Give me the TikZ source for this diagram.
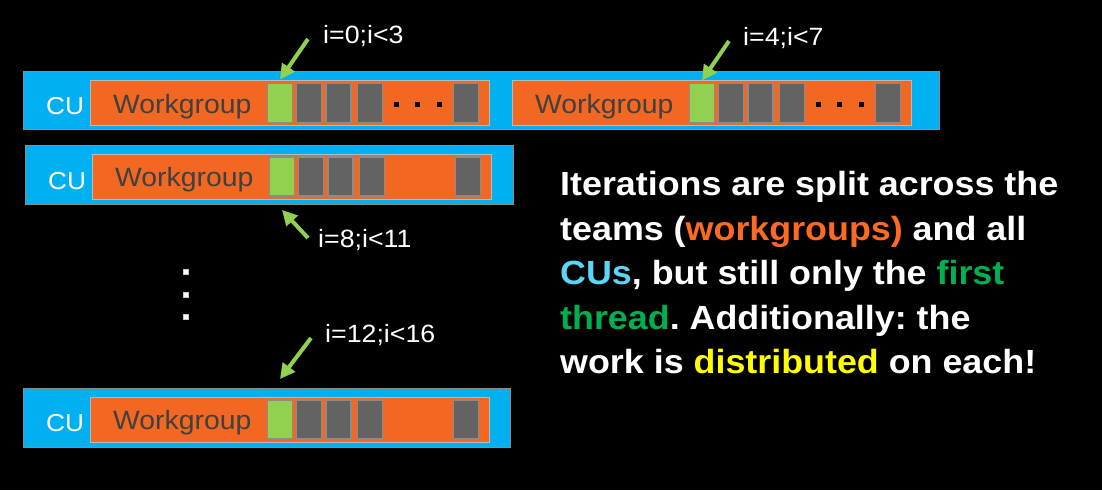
\documentclass[tikz,border=0pt]{standalone}
\usepackage{fontspec}
\setmainfont{Liberation Sans}[FakeStretch=1.07]
\usetikzlibrary{arrows.meta}
\frenchspacing

\definecolor{cublue}{HTML}{00B0F0}
\definecolor{wgorange}{HTML}{F26722}
\definecolor{thrgreen}{HTML}{92D050}
\definecolor{thrgray}{HTML}{636363}
\definecolor{edgegray}{HTML}{8C8C8C}
\definecolor{txtorange}{HTML}{FF6A22}
\definecolor{txtblue}{HTML}{5CD6F7}
\definecolor{txtgreen}{HTML}{00B050}
\definecolor{txtyellow}{HTML}{FFFF00}

% one workgroup: name, left x, centre y
\newcommand\workgroup[3]{%
  \node[wgbox,anchor=west] (#1) at (#2,#3) {};
  \node[wglabel,anchor=base west] (#1-txt) at (#2+23,#3+10) {Workgroup};
  \node[firstbox] (#1-t0) at (#2+190,#3) {};
  \foreach \dx [count=\k] in {219,248.5,280,376}
    \node[threadbox] (#1-t\k) at (#2+\dx,#3) {};
}

\begin{document}
\begin{tikzpicture}[x=1pt,y=-1pt,
    cubox/.style={draw=edgegray,line width=1pt,fill=cublue,inner sep=0pt,outer sep=0pt},
    wgbox/.style={draw=edgegray!60,line width=0.8pt,fill=wgorange,minimum width=399pt,minimum height=45pt,inner sep=0pt,outer sep=0pt},
    threadbox/.style={draw=edgegray,line width=1.2pt,fill=thrgray,minimum width=25pt,minimum height=39pt,inner sep=0pt,outer sep=0pt},
    firstbox/.style={threadbox,fill=thrgreen},
    wglabel/.style={font=\fontsize{26.5}{30}\selectfont,text=black!75,inner sep=0pt},
    culabel/.style={font=\fontsize{24.5}{28}\selectfont,text=white,inner sep=0pt,anchor=base west},
    idxlabel/.style={font=\fontsize{25}{28}\selectfont,text=white,inner sep=0pt,anchor=base west},
    ptr/.style={draw=thrgreen,line width=4pt,-{Triangle[length=15pt,width=15pt]}},
    dot/.style={fill=#1,minimum size=5pt,inner sep=0pt},
    note/.style={font=\fontsize{33.5}{44.5}\selectfont\bfseries,text=white,align=left,inner sep=0pt}]
  \fill[black] (0,0) rectangle (1102,490);
  \useasboundingbox (0,0) rectangle (1102,490);

  % compute units
  \node[cubox,anchor=north west,minimum width=916pt,minimum height=58pt] (cuA) at (23,71) {};
  \node[cubox,anchor=north west,minimum width=488pt,minimum height=59pt] (cuB) at (25,145) {};
  \node[cubox,anchor=north west,minimum width=487pt,minimum height=59pt] (cuC) at (23,388) {};
  \node[culabel] (cuA-txt) at (46,114) {CU};
  \node[culabel] (cuB-txt) at (48,189) {CU};
  \node[culabel] (cuC-txt) at (46,431) {CU};

  % workgroups
  \workgroup{wgA}{90}{103}
  \workgroup{wgAA}{512}{103}
  \workgroup{wgB}{92}{176.5}
  \workgroup{wgC}{90}{419.5}

  % elided threads
  \foreach \dx in {306,327,349} {
    \node[dot=black] at (90+\dx,104) {};
    \node[dot=black] at (512+\dx,104) {};
  }
  \foreach \y in {272,295,317}
    \node[dot=white,draw=edgegray!50,line width=0.6pt] at (186,\y) {};

  % iteration ranges
  \node[idxlabel] (iA) at (323,43.3) {i=0;i<3};
  \node[idxlabel] (iAA) at (743,45) {i=4;i<7};
  \node[idxlabel] (iB) at (318,247) {i=8;i<11};
  \node[idxlabel] (iC) at (325,342) {i=12;i<16};
  \coordinate (pA) at (308,39);
  \coordinate (pAA) at (729,41);
  \coordinate (pB) at (308,238);
  \coordinate (pC) at (311,338);
  \draw[ptr] (pA) -- ([yshift=4pt]wgA-t0.north);
  \draw[ptr] (pAA) -- ([yshift=3pt]wgAA-t0.north);
  \draw[ptr] (pB) -- ([yshift=-14pt]wgB-t0.south);
  \draw[ptr] (pC) -- ([yshift=21pt]wgC-t0.north);

  \node[note,anchor=north west] (note) at (560,171.5) {Iterations are split across the\\
    teams (\textcolor{txtorange}{workgroups)} and all\\
    \textcolor{txtblue}{CUs}, but still only the \textcolor{txtgreen}{first}\\
    \textcolor{txtgreen}{thread}. Additionally: the\\
    work is \textcolor{txtyellow}{distributed} on each!};
\end{tikzpicture}
\end{document}
